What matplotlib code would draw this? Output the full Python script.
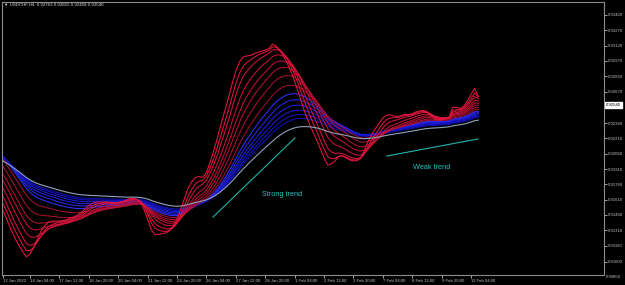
import numpy as np
import matplotlib.pyplot as plt

# USDCHF H4 closes (bar 0 = left edge)
close = [0.91509, 0.91411, 0.91303, 0.91215, 0.91146, 0.91097, 0.91039, 0.90999, 0.91107, 0.91205,
         0.91303, 0.91382, 0.91411, 0.91421, 0.91411, 0.91401, 0.91401, 0.91411, 0.91421, 0.91440,
         0.91460, 0.91480, 0.91509, 0.91558, 0.91587, 0.91597, 0.91597, 0.91587, 0.91587, 0.91587,
         0.91578, 0.91578, 0.91587, 0.91597, 0.91617, 0.91636, 0.91627, 0.91607, 0.91558, 0.91450,
         0.91323, 0.91215, 0.91215, 0.91274, 0.91284, 0.91293, 0.91333, 0.91391, 0.91480, 0.91607,
         0.91725, 0.91823, 0.91852, 0.91872, 0.91842, 0.91823, 0.91921, 0.92077, 0.92205, 0.92342,
         0.92489, 0.92607, 0.92734, 0.92881, 0.92999, 0.93048, 0.93057, 0.93028, 0.93028, 0.93057,
         0.93067, 0.93077, 0.93087, 0.93106, 0.93175, 0.93097, 0.93028, 0.92959, 0.92881, 0.92783,
         0.92675, 0.92558, 0.92440, 0.92342, 0.92264, 0.92195, 0.92117, 0.92028, 0.91930, 0.91881,
         0.91970, 0.92019, 0.92077, 0.92048, 0.91999, 0.91979, 0.91979, 0.91999, 0.92048, 0.92166,
         0.92264, 0.92322, 0.92362, 0.92411, 0.92460, 0.92469, 0.92440, 0.92420, 0.92420, 0.92440,
         0.92460, 0.92440, 0.92460, 0.92489, 0.92489, 0.92489, 0.92460, 0.92411, 0.92371, 0.92381,
         0.92391, 0.92411, 0.92420, 0.92616, 0.92518, 0.92489, 0.92548, 0.92626, 0.92705, 0.92763,
         0.92540]

# moving average periods and their values at the left edge
red_periods = [3, 5, 7, 10, 13, 16, 20, 25]
red_start = [0.91578, 0.91666, 0.91744, 0.91823, 0.91891, 0.91950, 0.92019, 0.92077]
blue_periods = [30, 34, 38, 42, 46, 50]
blue_start = [0.92097, 0.92087, 0.92077, 0.92068, 0.92058, 0.92048]
grey_period = 60
grey_start = 0.92019

red_colors = ['#e8163e', '#de143c', '#d4143a', '#ca1238', '#c01236', '#b61034', '#ac1032', '#a20e30']
blue_colors = ['#3030ff', '#2828f2', '#2020e4', '#1a1ad6', '#1414c8', '#0e0eba']

# trend lines (bar, price) and notes
strong_x = [57.8, 80.1]
strong_y = [0.91440, 0.92215]
weak_x = [105.1, 129.9]
weak_y = [0.92038, 0.92205]

xtick_bars = [0.7, 8, 16, 24, 32, 40, 48, 56, 64, 72, 80, 88, 96, 104, 112, 120, 128]
xtick_labels = ['12 Jan 2022', '14 Jan 04:00', '17 Jan 12:00', '18 Jan 20:00', '20 Jan 04:00',
                '21 Jan 12:00', '24 Jan 20:00', '26 Jan 04:00', '27 Jan 12:00', '28 Jan 20:00',
                '1 Feb 04:00', '2 Feb 12:00', '3 Feb 20:00', '7 Feb 04:00', '8 Feb 12:00',
                '9 Feb 20:00', '11 Feb 04:00']
ytick_vals = [0.93420, 0.93270, 0.93120, 0.92970, 0.92820, 0.92670, 0.92360, 0.92210, 0.92060,
              0.91910, 0.91760, 0.91610, 0.91460, 0.91310, 0.91160, 0.91000]
last_price = 0.92540


def ema(vals, period, start):
    a = 2.0 / (period + 1)
    out = []
    e = start
    for v in vals:
        e = a * v + (1 - a) * e
        out.append(e)
    return np.array(out)


bars = np.arange(len(close))

plt.rcParams['font.family'] = ['Liberation Sans', 'DejaVu Sans']
fig = plt.figure(figsize=(6.25, 2.85), dpi=100, facecolor='black')
ax = fig.add_axes([2 / 625, 10 / 285, 602 / 625, 273 / 285], facecolor='black')

for p, s, c in zip(blue_periods, blue_start, blue_colors):
    ax.plot(bars, ema(close, p, s), color=c, lw=0.75)
for p, s, c in zip(red_periods[::-1], red_start[::-1], red_colors[::-1]):
    ax.plot(bars, ema(close, p, s), color=c, lw=0.75)
ax.plot(bars, ema(close, grey_period, grey_start), color='#93a2b8', lw=0.8)

ax.plot(strong_x, strong_y, color='#20b2aa', lw=0.8)
ax.plot(weak_x, weak_y, color='#20b2aa', lw=0.8)
ax.text(71.1, 0.91656, 'Strong trend', color='#20c0c0', fontsize=5.3, va='center')
ax.text(112.2, 0.91921, 'Weak trend', color='#20c0c0', fontsize=5.3, va='center')

ax.set_xlim(0.38, 164.2)
ax.set_ylim(0.90872, 0.93547)

ax.yaxis.tick_right()
ax.set_yticks(ytick_vals)
ax.set_yticklabels(['%.5f' % v for v in ytick_vals])
ax.set_xticks(xtick_bars)
ax.set_xticklabels(xtick_labels, ha='left')
ax.tick_params(colors='#c0c0c0', labelsize=3.1, length=2, width=0.6, pad=1)
for sp in ax.spines.values():
    sp.set_color('#8c8c8c')
    sp.set_linewidth(0.8)

ax.text(1.003, 0.90850, '0.90850', color='#c0c0c0', fontsize=3.1, va='center',
        transform=ax.get_yaxis_transform(), clip_on=False)
ax.text(1.003, last_price, '%.5f' % last_price, color='black', fontsize=3.1, va='center',
        transform=ax.get_yaxis_transform(), clip_on=False,
        bbox=dict(facecolor='white', edgecolor='white', pad=0.6))

fig.text(4 / 625, 1 - 5 / 285, '\u25bc USDCHF,H4  0.92763 0.92815 0.92458 0.92540',
         color='#e0e0e0', fontsize=3.2, va='center')

fig.savefig('out.png', dpi=100, facecolor='black')
